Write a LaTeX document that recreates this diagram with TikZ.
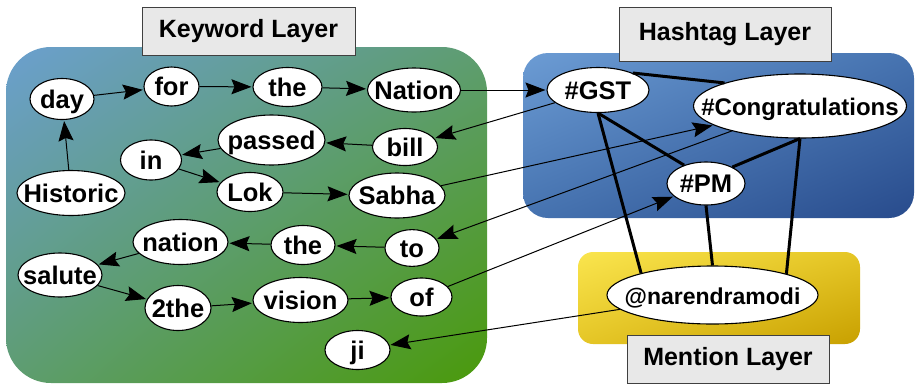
\documentclass[tikz,border=0pt]{standalone}
\usepackage{fontspec}
\setmainfont{Liberation Sans}
\usetikzlibrary{shapes.geometric,arrows.meta,shadings}
\definecolor{kwTL}{HTML}{6B9FCF}
\definecolor{kwBR}{HTML}{4A9A0A}
\definecolor{kwMX}{HTML}{5E9D70}
\definecolor{htTL}{HTML}{6C9CD4}
\definecolor{htBR}{HTML}{284B8C}
\definecolor{htMX}{HTML}{4673B0}
\definecolor{mnTL}{HTML}{FAE54E}
\definecolor{mnBR}{HTML}{C8A000}
\definecolor{mnMX}{HTML}{E5C626}
\definecolor{labfill}{HTML}{E8E8E8}
\newcommand{\wtxt}[1]{\makebox[0pt]{#1}}
\begin{document}
\begin{tikzpicture}[x=1pt,y=-1pt,
  word/.style={ellipse,draw=black,line width=1.1pt,fill=white,inner sep=0pt,
    text height=22pt,text depth=4pt,font=\fontsize{25.5}{30}\bfseries\selectfont},
  sz/.style 2 args={minimum width=#1pt,minimum height=#2pt},
  lab/.style={draw=black!75,fill=labfill,line width=1pt,inner sep=0pt,
    font=\fontsize{25}{30}\bfseries\selectfont},
  arr/.style={line width=1pt,-{Stealth[length=20pt,width=15pt,inset=3pt]},shorten >=1pt},
  tie/.style={line width=3pt}]
\useasboundingbox (0,0) rectangle (916,384);
% backgrounds
\shade[rounded corners=45pt,upper left=kwTL,lower right=kwBR,upper right=kwMX,lower left=kwMX]
  (6,47) rectangle (487,383);
\shade[rounded corners=25pt,upper left=htTL,lower right=htBR,upper right=htMX,lower left=htMX]
  (523,53) rectangle (914,218);
\shade[rounded corners=15pt,upper left=mnTL,lower right=mnBR,upper right=mnMX,lower left=mnMX]
  (578,252) rectangle (860,344);
% layer labels
\node[lab,minimum width=213pt,minimum height=48pt] (kwl) at (248.5,31) {Keyword Layer};
\node[lab,minimum width=212pt,minimum height=54pt] (htl) at (725,34) {Hashtag Layer};
\node[lab,minimum width=202pt,minimum height=48pt] (mnl) at (728,359.5) {Mention Layer};
% keyword nodes
\node[word,sz={64}{41}] (day) at (62,99) {\wtxt{day}};
\node[word,sz={55}{39}] (for) at (171.5,86.5) {\wtxt{for}};
\node[word,sz={69}{39}] (the1) at (287.5,87) {\wtxt{the}};
\node[word,sz={93}{44}] (nation1) at (414,90) {\wtxt{Nation}};
\node[word,sz={107}{50}] (passed) at (271.5,140) {\wtxt{passed}};
\node[word,sz={65}{37}] (bill) at (405,147) {\wtxt{bill}};
\node[word,sz={61}{40}] (in) at (151,160) {\wtxt{in}};
\node[word,sz={108}{45}] (historic) at (71,193) {\wtxt{Historic}};
\node[word,sz={66}{39}] (lok) at (250,192) {\wtxt{Lok}};
\node[word,sz={96}{45}] (sabha) at (397,195.5) {\wtxt{Sabha}};
\node[word,sz={95}{45}] (nation2) at (180.5,242) {\wtxt{nation}};
\node[word,sz={64}{39}] (the2) at (303,245) {\wtxt{the}};
\node[word,sz={54}{34}] (to) at (412,248) {\wtxt{to}};
\node[word,sz={84}{44}] (salute) at (60,275) {\wtxt{salute}};
\node[word,sz={66}{45}] (twothe) at (178,308) {\wtxt{2the}};
\node[word,sz={95}{45}] (vision) at (300.5,300) {\wtxt{vision}};
\node[word,sz={61}{38}] (of) at (421.5,297) {\wtxt{of}};
\node[word,sz={65}{39}] (ji) at (357.5,350) {\wtxt{ji}};
% hashtag nodes
\node[word,sz={102}{45}] (gst) at (598,90) {\wtxt{\#GST}};
\node[word,sz={213}{64},font=\fontsize{24}{29}\bfseries\selectfont] (cong) at (800,106) {\wtxt{\#Congratulations}};
\node[word,sz={78}{43}] (pm) at (706,183.5) {\wtxt{\#PM}};
% mention node
\node[word,sz={211}{58},font=\fontsize{23}{28}\bfseries\selectfont] (nm) at (712.5,295) {\wtxt{@narendramodi}};
% keyword edges
\draw[arr] (historic) -- (day);
\draw[arr] (day) -- (for);
\draw[arr] (for) -- (the1);
\draw[arr] (the1) -- (nation1);
\draw[arr] (nation1) -- (gst);
\draw[arr] (gst) -- (bill);
\draw[arr] (bill) -- (passed);
\draw[arr] (passed) -- (in);
\draw[arr] (in) -- (lok);
\draw[arr] (lok) -- (sabha);
\draw[arr] (sabha) -- (cong);
\draw[arr] (cong) -- (to);
\draw[arr] (to) -- (the2);
\draw[arr] (the2) -- (nation2);
\draw[arr] (nation2) -- (salute);
\draw[arr] (salute) -- (twothe);
\draw[arr] (twothe) -- (vision);
\draw[arr] (vision) -- (of);
\draw[arr] (of) -- (pm);
\draw[arr] (nm) -- (ji);
% undirected links
\draw[tie] (gst.26) -- (cong.163);
\draw[tie] (gst.south) -- (pm.140);
\draw[tie] (gst.south) -- (nm.163);
\draw[tie] (cong.south) -- (pm.32);
\draw[tie] (cong.south) -- (nm.16);
\draw[tie] (pm.south) -- (nm.north);
\end{tikzpicture}
\end{document}
